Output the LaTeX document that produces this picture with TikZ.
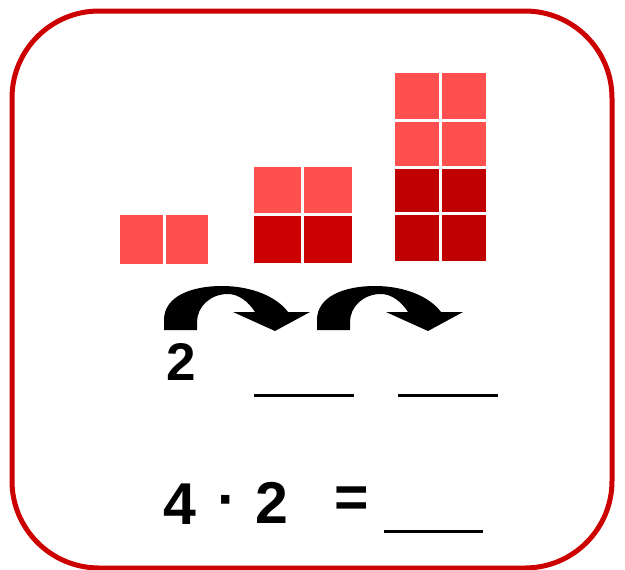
\documentclass[tikz,border=0pt]{standalone}
\usepackage{fontspec}
\usepackage{tikz}
\usepackage{xcolor}
\newfontfamily\handfont{Liberation Sans}

\definecolor{boxred}{HTML}{CC0000}
\definecolor{lightsq}{HTML}{FF5050}
\definecolor{midsq}{HTML}{CC0000}
\definecolor{darksq}{HTML}{C00000}

\tikzset{
  blank/.style={line width=3pt, black},
  hand/.style={inner sep=0pt, font=\fontsize{53}{58}\selectfont\handfont\bfseries},
  bighand/.style={inner sep=0pt, font=\fontsize{59}{64}\selectfont\handfont\bfseries},
}

\begin{document}
\begin{tikzpicture}[x=1pt,y=-1pt]
\useasboundingbox (0,0) rectangle (625,570);
\clip (0,0) rectangle (625,570);
\draw[boxred, line width=5pt, rounded corners=87pt] (12,11) rectangle (612,568);
% first group
\fill[lightsq] (120,215) rectangle (163,264);
\fill[lightsq] (166,215) rectangle (208,264);
% second group
\fill[lightsq] (254,167) rectangle (301,213);
\fill[lightsq] (304,167) rectangle (352,213);
\fill[midsq] (254,216) rectangle (301,263);
\fill[midsq] (304,216) rectangle (352,263);
% third group
\fill[lightsq] (395,73) rectangle (439,119);
\fill[lightsq] (442,73) rectangle (486,119);
\fill[lightsq] (395,122) rectangle (439,166);
\fill[lightsq] (442,122) rectangle (486,166);
\fill[darksq] (395,169) rectangle (439,212);
\fill[darksq] (442,169) rectangle (486,212);
\fill[darksq] (395,215) rectangle (439,261);
\fill[darksq] (442,215) rectangle (486,261);
% jump arrows
\foreach \dx in {0,153} {
  \fill[black, shift={(\dx,0)}] (164,330) -- (164,320)
    .. controls (164,296) and (192,286) .. (222,286)
    .. controls (252,286) and (277,297) .. (288,312)
    -- (310,312) -- (275,331) -- (233,312) -- (255,312)
    .. controls (248,301) and (238,294) .. (228,294)
    .. controls (210,294) and (197,307) .. (197,322)
    -- (197,330) -- cycle;
}
% sequence
\node[hand] (two) at (181,362) {2};
\draw[blank] (254,395) -- (354,395);
\draw[blank] (398,395) -- (498,395);
% product
\node[bighand] (four) at (180,504) {4};
\node[bighand] (dot) at (227,507) {·};
\node[bighand] (twob) at (272,503) {2};
\node[bighand] (eq) at (352,502) {=};
\draw[blank] (384,531) -- (483,531);
\end{tikzpicture}
\end{document}
